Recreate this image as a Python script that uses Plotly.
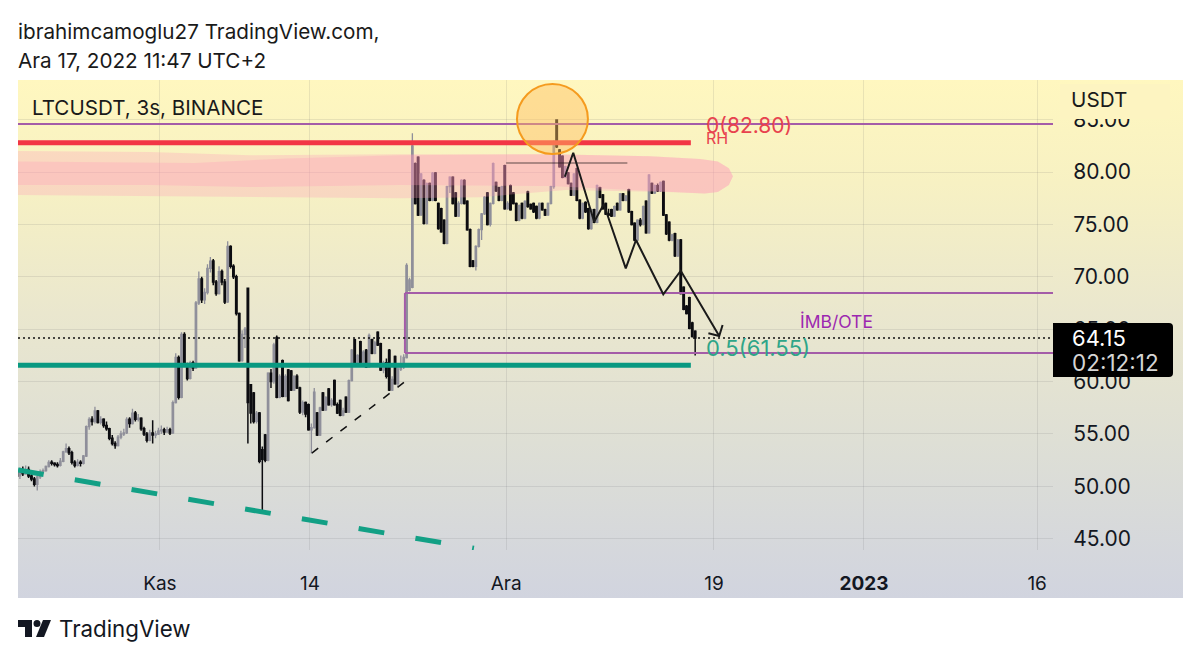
import pandas as pd
import plotly.graph_objects as go

W, H = 1200, 660

# 6 hour bars
bar_start = "2022-10-19 15:00"
bar_open = [
    51.3, 51.0, 51.5, 51.2, 51.6, 51.0, 50.7, 50.2, 50.9, 51.4,
    51.5, 51.9, 52.3, 52.2, 52.1, 52.0, 52.4, 53.3, 53.6, 53.2,
    52.3, 52.0, 52.3, 52.2, 52.9, 55.7, 56.4, 56.2, 57.2, 56.1,
    56.4, 55.8, 55.5, 54.6, 54.1, 53.9, 54.7, 55.0, 55.1, 56.4,
    56.0, 57.0, 56.4, 56.5, 55.5, 55.0, 54.4, 55.1, 54.9, 55.0,
    55.3, 55.4, 55.2, 55.4, 55.1, 58.0, 62.3, 58.5, 64.5, 61.6,
    60.3, 61.8, 61.3, 67.5, 69.8, 67.8, 68.5, 70.8, 71.5, 69.5,
    68.4, 70.5, 69.5, 67.6, 72.9, 71.0, 70.0, 66.5, 62.0, 64.5,
    68.9, 59.7, 58.9, 56.2, 57.0, 53.5, 54.9, 52.5, 60.8, 60.0,
    64.2, 58.5, 62.0, 58.6, 61.1, 61.0, 59.2, 60.5, 59.4, 57.1,
    58.0, 57.8, 55.4, 55.6, 57.0, 54.9, 58.9, 57.3, 59.3, 57.8,
    60.1, 57.8, 58.2, 56.8, 58.5, 57.1, 60.1, 64.0, 61.7, 63.8,
    61.7, 63.0, 61.4, 64.0, 62.7, 64.7, 63.6, 61.1, 61.8, 63.0,
    59.2, 62.4, 59.8, 61.2, 61.4, 62.3, 68.7, 69.0, 80.8, 81.4,
    75.9, 79.2, 75.1, 78.9, 77.3, 79.9, 77.0, 76.5, 75.4, 73.2,
    78.6, 79.5, 78.0, 75.8, 77.0, 79.2, 77.2, 74.5, 71.5, 71.0,
    72.9, 74.5, 76.0, 78.0, 75.0, 77.0, 79.0, 78.5, 77.3, 80.6,
    76.5, 78.7, 78.0, 77.0, 75.4, 77.0, 75.6, 78.1, 76.9, 77.0,
    76.7, 75.6, 77.0, 76.4, 75.9, 77.0, 78.6, 84.96, 82.1, 81.5,
    79.5, 79.9, 78.9, 77.8, 80.3, 77.3, 75.6, 77.1, 76.5, 74.6,
    76.4, 75.2, 78.5, 77.8, 77.0, 76.0, 76.4, 75.8, 77.0, 76.4,
    77.9, 77.3, 78.3, 76.2, 75.1, 73.5, 75.4, 75.0, 77.2, 74.2,
    78.9, 78.0, 78.7, 78.2, 79.1, 75.9, 75.2, 73.5, 74.1, 72.0,
    73.5, 69.0, 67.2, 68.0, 65.6, 64.8,
]
bar_high = [
    51.8, 51.8, 51.9, 52.0, 51.9, 51.2, 50.9, 51.0, 51.6, 51.7,
    52.0, 52.5, 52.5, 52.3, 52.3, 52.7, 53.4, 54.1, 53.8, 53.4,
    52.5, 52.6, 52.5, 53.0, 55.8, 56.6, 56.7, 57.6, 57.3, 56.7,
    56.5, 56.2, 55.6, 54.9, 54.3, 54.9, 55.3, 55.5, 56.6, 56.6,
    57.4, 57.2, 56.9, 56.6, 55.7, 55.2, 55.4, 56.3, 55.3, 55.6,
    55.8, 55.6, 55.7, 55.6, 58.2, 62.7, 62.5, 64.7, 64.7, 61.8,
    62.0, 62.0, 67.7, 70.5, 70.0, 68.9, 71.2, 71.9, 71.7, 69.7,
    71.0, 70.7, 69.8, 73.4, 73.0, 71.2, 70.2, 66.6, 64.9, 65.2,
    68.9, 59.7, 59.0, 57.2, 57.1, 53.8, 55.0, 60.9, 61.2, 63.7,
    64.4, 60.7, 62.1, 60.7, 61.2, 61.1, 60.6, 60.7, 59.5, 58.2,
    58.1, 57.9, 56.0, 59.4, 57.1, 57.6, 59.0, 58.6, 59.4, 58.4,
    60.2, 58.0, 58.3, 57.5, 58.6, 60.2, 63.1, 64.1, 62.6, 63.9,
    63.0, 63.1, 64.6, 64.1, 63.9, 64.8, 63.7, 62.0, 62.2, 63.1,
    60.5, 62.5, 61.5, 62.5, 62.6, 71.3, 69.9, 83.7, 80.9, 81.5,
    79.9, 79.3, 79.0, 79.0, 80.0, 80.0, 77.1, 76.6, 75.5, 78.7,
    79.6, 79.6, 78.1, 77.2, 79.3, 79.3, 77.3, 74.6, 71.6, 73.0,
    74.6, 76.1, 77.7, 78.1, 77.1, 80.9, 79.1, 78.6, 78.7, 80.7,
    77.2, 78.8, 78.1, 77.1, 76.9, 77.1, 77.3, 78.2, 77.0, 77.1,
    76.8, 77.1, 77.1, 76.5, 77.1, 78.7, 83.0, 85.0, 82.2, 81.6,
    80.6, 80.0, 79.0, 79.9, 80.4, 77.4, 77.1, 77.2, 76.6, 76.5,
    76.5, 78.8, 78.6, 77.9, 77.1, 76.5, 76.5, 76.8, 77.1, 78.0,
    78.0, 77.8, 78.4, 76.3, 75.2, 75.5, 75.6, 76.8, 77.3, 79.8,
    79.0, 78.8, 78.9, 79.1, 79.2, 76.0, 75.3, 74.1, 74.2, 73.6,
    73.6, 69.1, 67.3, 68.1, 65.7, 64.9,
]
bar_low = [
    50.8, 50.7, 51.0, 51.1, 50.8, 50.5, 50.0, 49.6, 50.7, 51.2,
    51.4, 51.8, 52.0, 51.9, 51.8, 51.9, 52.3, 53.2, 53.0, 52.1,
    51.8, 51.9, 51.9, 52.1, 52.8, 55.4, 55.8, 56.0, 56.0, 55.9,
    55.6, 55.3, 54.4, 53.9, 53.6, 53.8, 54.5, 54.8, 55.0, 55.6,
    55.9, 56.2, 56.2, 55.3, 54.8, 54.2, 54.3, 54.1, 54.6, 54.9,
    55.0, 54.9, 55.1, 54.9, 55.0, 57.9, 58.3, 58.4, 61.4, 60.1,
    60.2, 61.0, 61.2, 67.3, 67.5, 67.4, 68.3, 70.4, 69.2, 68.2,
    68.3, 69.2, 67.4, 67.5, 70.8, 69.8, 66.3, 61.9, 61.9, 63.2,
    54.1, 56.0, 56.0, 56.0, 52.2, 47.65, 52.3, 52.4, 59.4, 59.8,
    58.4, 58.4, 58.5, 58.5, 58.1, 59.1, 59.1, 59.3, 56.9, 56.8,
    56.6, 55.3, 53.15, 55.5, 54.8, 54.8, 57.2, 57.2, 57.7, 57.6,
    57.7, 56.9, 56.7, 56.7, 57.0, 57.0, 60.0, 61.6, 61.6, 61.6,
    61.6, 61.3, 61.3, 62.6, 62.6, 63.4, 61.0, 60.8, 60.3, 59.1,
    59.1, 59.7, 59.5, 61.0, 61.2, 62.2, 68.6, 68.9, 76.9, 75.8,
    75.8, 75.0, 75.0, 77.2, 77.2, 77.2, 74.5, 74.2, 73.1, 73.1,
    78.0, 76.9, 75.7, 75.7, 76.9, 76.9, 74.4, 70.9, 70.9, 70.6,
    72.8, 73.5, 75.9, 74.9, 74.8, 76.9, 78.1, 77.2, 77.2, 76.4,
    76.4, 76.3, 76.9, 75.3, 75.3, 75.5, 75.5, 76.6, 76.4, 76.1,
    75.5, 75.5, 76.3, 75.8, 75.8, 76.9, 78.4, 82.3, 80.4, 79.4,
    79.4, 78.8, 77.7, 77.7, 77.2, 75.5, 75.5, 76.1, 74.5, 74.5,
    75.1, 75.1, 77.5, 76.4, 75.9, 75.8, 75.7, 75.7, 76.3, 76.3,
    77.2, 77.2, 76.1, 74.9, 73.4, 73.4, 74.8, 74.9, 74.1, 74.1,
    77.9, 77.9, 78.1, 78.1, 75.8, 74.0, 73.4, 73.4, 71.9, 71.9,
    68.3, 66.8, 66.4, 65.0, 64.2, 62.5,
]
bar_close = [
    51.0, 51.5, 51.2, 51.6, 51.0, 50.7, 50.2, 50.9, 51.4, 51.5,
    51.9, 52.3, 52.2, 52.1, 52.0, 52.4, 53.3, 53.6, 53.2, 52.3,
    52.0, 52.3, 52.2, 52.9, 55.7, 56.4, 56.2, 57.2, 56.1, 56.4,
    55.8, 55.5, 54.6, 54.1, 53.9, 54.7, 55.0, 55.1, 56.4, 56.0,
    57.0, 56.4, 56.5, 55.5, 55.0, 54.4, 55.1, 54.9, 55.0, 55.3,
    55.4, 55.2, 55.4, 55.1, 58.0, 62.3, 58.5, 64.5, 61.6, 60.3,
    61.8, 61.3, 67.5, 69.8, 67.8, 68.5, 70.8, 71.5, 69.5, 68.4,
    70.5, 69.5, 67.6, 72.9, 71.0, 70.0, 66.5, 62.0, 64.5, 65.0,
    58.0, 57.0, 56.2, 57.0, 52.4, 52.6, 52.5, 60.8, 60.0, 63.5,
    58.5, 60.5, 58.6, 60.5, 58.2, 59.2, 60.5, 59.4, 57.1, 58.0,
    56.9, 55.4, 55.6, 59.0, 54.9, 57.5, 57.3, 58.5, 57.8, 58.2,
    57.8, 57.0, 56.8, 57.2, 57.1, 60.1, 63.0, 61.7, 62.5, 61.7,
    62.8, 61.4, 64.4, 62.7, 63.7, 63.5, 61.1, 61.8, 60.5, 59.2,
    60.2, 59.8, 61.2, 61.4, 62.3, 71.1, 69.7, 82.5, 77.0, 75.9,
    79.8, 75.1, 78.9, 77.3, 79.9, 77.3, 74.6, 74.3, 73.2, 78.6,
    79.5, 77.0, 75.8, 77.0, 79.2, 77.0, 74.5, 71.0, 71.0, 72.9,
    74.5, 76.0, 77.6, 75.0, 77.0, 80.8, 78.2, 77.3, 78.6, 76.5,
    77.0, 76.4, 77.0, 75.4, 76.8, 75.6, 77.2, 76.7, 76.5, 76.2,
    75.6, 77.0, 76.4, 75.9, 77.0, 78.6, 82.8, 82.4, 80.5, 79.5,
    80.5, 78.9, 77.8, 79.8, 77.3, 75.6, 77.0, 76.2, 74.6, 76.4,
    75.2, 78.7, 77.6, 76.5, 76.0, 75.9, 75.8, 76.7, 76.4, 77.9,
    77.3, 77.7, 76.2, 75.0, 73.5, 75.4, 75.0, 76.7, 74.2, 79.7,
    78.0, 78.7, 78.2, 79.0, 75.9, 74.1, 73.5, 74.0, 72.0, 73.5,
    68.4, 66.9, 66.5, 65.1, 64.3, 64.15,
]

price_ticks = [45, 50, 55, 60, 65, 70, 75, 80, 85]
date_ticks = ["2022-11-01", "2022-11-14", "2022-12-01", "2022-12-19", "2023-01-01", "2023-01-16"]
date_labels = ["Kas", "14", "Ara", "19", "<b>2023</b>", "16"]

x_left = "2022-10-19 17:00"
x_right = "2023-01-17 09:00"
y_bottom, y_top = 43.93, 88.78

# drawings on the chart, dates and prices
level_top = 84.58
level_rh = 82.80
level_box_top = 68.45
level_box_bottom = 62.73
level_mid = 61.55
last_price = 64.15
rh_end = "2022-12-17 00:00"
box_start = "2022-11-22 05:30"

zigzag_dates = ["2022-12-06 02:00", "2022-12-06 19:30", "2022-12-08 15:00", "2022-12-09 11:00",
                "2022-12-11 08:40", "2022-12-12 06:00", "2022-12-14 14:40", "2022-12-16 03:00",
                "2022-12-19 11:00"]
zigzag_prices = [79.55, 81.84, 75.26, 76.92, 70.81, 73.51, 68.33, 70.58, 64.35]
arrow_dates = ["2022-12-18 12:30", "2022-12-19 11:00", "2022-12-19 18:00"]
arrow_prices = [64.61, 64.35, 65.4]

green_trend_dates = ["2022-10-19 17:00", "2022-11-28 05:00"]
green_trend_prices = [51.56, 44.1]
black_trend_dates = ["2022-11-14 04:00", "2022-11-22 10:00"]
black_trend_prices = [53.18, 60.15]
thin_dates = ["2022-12-01 00:00", "2022-12-11 12:00"]
thin_price = 80.86

brush_a_dates = ["2022-10-19 17:00", "2022-10-31 03:00", "2022-11-08 19:00", "2022-11-21 19:00",
                 "2022-12-04 19:00", "2022-12-13 11:00", "2022-12-17 19:00", "2022-12-19 08:00",
                 "2022-12-20 07:00", "2022-12-20 15:30", "2022-12-20 07:00", "2022-12-19 08:00",
                 "2022-12-18 05:00", "2022-12-13 11:00", "2022-12-04 19:00", "2022-11-21 19:00",
                 "2022-11-08 19:00", "2022-10-31 03:00", "2022-10-19 17:00"]
brush_a_prices = [82.0, 81.9, 81.6, 81.7, 81.7, 81.5, 81.25, 81.0, 80.35, 79.6, 78.75, 78.1,
                  77.95, 78.2, 78.66, 78.75, 78.57, 78.75, 78.75]
brush_b_dates = ["2022-10-19 17:00", "2022-11-04 00:00", "2022-11-12 00:00", "2022-11-21 19:00",
                 "2022-12-04 19:00", "2022-12-13 11:00", "2022-12-17 19:00", "2022-12-19 08:00",
                 "2022-12-20 07:00", "2022-12-20 15:30", "2022-12-20 07:00", "2022-12-19 08:00",
                 "2022-12-18 05:00", "2022-12-14 22:00", "2022-12-06 04:00", "2022-11-28 17:30",
                 "2022-11-21 19:00", "2022-10-31 03:00", "2022-10-19 17:00"]
brush_b_prices = [81.0, 80.85, 81.3, 81.6, 81.7, 81.5, 81.25, 81.0, 80.35, 79.6, 78.75, 78.1,
                  77.95, 78.09, 78.28, 77.6, 77.5, 77.7, 77.8]

FONT = "Inter"
INK = "#131722"
PURPLE = "#A45CA8"
RED = "#F23645"
GREEN = "#089981"
TEAL_TEXT = "#2FA588"
BRUSH = "rgba(255,150,185,0.28)"


def px(x):
    return x / W


def py(y):
    return 1 - y / H


bar_times = pd.date_range(bar_start, periods=len(bar_close), freq="6h")

fig = go.Figure()

# panel behind the chart, it goes further than the plot on the right and at the bottom
fig.add_trace(go.Scatter(
    x=[0, 1, 1, 0, 0], y=[0, 0, 1, 1, 0], mode="lines", line=dict(width=0), fill="toself",
    fillgradient=dict(type="vertical", colorscale=[
        [0, "#D1D4DF"], [0.3, "#DEDFD5"], [0.55, "#EAE7CE"], [0.8, "#F7F1C3"], [1, "#FFF7BF"]]),
    hoverinfo="skip", xaxis="x", yaxis="y"))

fig.add_trace(go.Candlestick(
    x=bar_times, open=bar_open, high=bar_high, low=bar_low, close=bar_close,
    increasing=dict(line=dict(color="#8F8F9A", width=1.3), fillcolor="#8F8F9A"),
    decreasing=dict(line=dict(color="#0C0C10", width=1.5), fillcolor="#0C0C10"),
    whiskerwidth=0, xaxis="x2", yaxis="y2"))


def chart_line(xs, ys, color, width, dash="solid", fill=None, fillcolor=None):
    fig.add_trace(go.Scatter(
        x=xs, y=ys, mode="lines", line=dict(color=color, width=width, dash=dash),
        fill=fill, fillcolor=fillcolor, hoverinfo="skip", xaxis="x2", yaxis="y2"))


chart_line(brush_a_dates, brush_a_prices, "rgba(0,0,0,0)", 0, fill="toself", fillcolor=BRUSH)
chart_line(brush_b_dates, brush_b_prices, "rgba(0,0,0,0)", 0, fill="toself", fillcolor=BRUSH)

chart_line([x_left, x_right], [level_top, level_top], PURPLE, 2)
chart_line([box_start, x_right], [level_box_top, level_box_top], PURPLE, 2)
chart_line([box_start, x_right], [level_box_bottom, level_box_bottom], PURPLE, 2)
chart_line([box_start, box_start], [level_box_bottom, level_box_top], PURPLE, 2)
chart_line([x_left, rh_end], [level_rh, level_rh], RED, 5)
chart_line([x_left, rh_end], [level_mid, level_mid], GREEN, 5)
chart_line([x_left, x_right], [last_price, last_price], "#111111", 1.5, dash="2px,3px")
chart_line(green_trend_dates, green_trend_prices, "#12A085", 5, dash="26px,31.6px")
chart_line(black_trend_dates, black_trend_prices, "#111111", 1.5, dash="8px,10px")
chart_line(thin_dates, [thin_price, thin_price], "rgba(30,20,20,0.7)", 1.2)
chart_line(zigzag_dates, zigzag_prices, "#1A1A1A", 2)
chart_line(arrow_dates, arrow_prices, "#1A1A1A", 2)

shapes = [
    # highlighted top
    dict(type="circle", xref="x2", yref="y2", x0="2022-12-01 22:30", x1="2022-12-08 02:00",
         y0=81.72, y1=88.4, fillcolor="rgba(255,190,95,0.45)", line=dict(color="#F59B1E", width=2),
         layer="above"),
    # hides the upper half of the 85.00 label
    dict(type="rect", xref="paper", yref="paper", x0=px(1060), x1=px(1170), y0=py(119), y1=py(84),
         fillcolor="#FDF4C1", line=dict(width=0), layer="above"),
    # last price tag
    dict(type="path", xref="paper", yref="paper", line=dict(width=0), fillcolor="#000000", layer="above",
         path=f"M{px(1053)},{py(323)} L{px(1169)},{py(323)} Q{px(1173)},{py(323)} {px(1173)},{py(327)} "
              f"L{px(1173)},{py(373)} Q{px(1173)},{py(377)} {px(1169)},{py(377)} L{px(1053)},{py(377)} Z"),
    # TradingView logo
    dict(type="path", xref="paper", yref="paper", line=dict(width=0), fillcolor=INK,
         path=f"M{px(18)},{py(620)} L{px(32)},{py(620)} L{px(32)},{py(637)} L{px(25)},{py(637)} "
              f"L{px(25)},{py(627)} L{px(18)},{py(627)} Z"),
    dict(type="circle", xref="paper", yref="paper", x0=px(33.5), x1=px(40.5), y0=py(627), y1=py(620),
         fillcolor=INK, line=dict(width=0)),
    dict(type="path", xref="paper", yref="paper", line=dict(width=0), fillcolor=INK,
         path=f"M{px(43)},{py(620)} L{px(51)},{py(620)} L{px(44)},{py(637)} L{px(36)},{py(637)} Z"),
]


def note(text, x, y, size, color):
    return dict(text=text, xref="paper", yref="paper", x=px(x), y=py(y), xanchor="left", yanchor="middle",
                showarrow=False, borderpad=0, font=dict(family=FONT, size=size, color=color))


annotations = [
    note("ibrahimcamoglu27 TradingView.com,", 17, 32, 20.7, "#1A1A1A"),
    note("Ara 17, 2022 11:47 UTC+2", 17, 61, 20.7, "#1A1A1A"),
    note("LTCUSDT, 3s, BINANCE", 31, 108, 20.6, "#1A1A1A"),
    note("USDT", 1070, 100, 20.7, "#1A1A1A"),
    note("RH", 705, 138, 16, "#E8424E"),
    note("0(82.80)", 705, 125, 21, "#E8424E"),
    note("İMB/OTE", 799, 322, 17.5, "#9C27B0"),
    note("0.5(61.55)", 705, 348, 22, TEAL_TEXT),
    note("64.15", 1071, 338, 22, "#FFFFFF"),
    note("02:12:12", 1071, 362, 22.5, "#D5D5D5"),
    note("TradingView", 58, 628, 22.3, INK),
]

fig.update_layout(
    width=W, height=H, margin=dict(l=0, r=0, t=0, b=0), showlegend=False,
    paper_bgcolor="#FFFFFF", plot_bgcolor="rgba(0,0,0,0)",
    font=dict(family=FONT, color=INK),
    shapes=shapes, annotations=annotations,
    xaxis=dict(domain=[px(18), px(1183)], range=[0, 1], visible=False, fixedrange=True),
    yaxis=dict(domain=[py(598), py(80)], range=[0, 1], visible=False, fixedrange=True),
    xaxis2=dict(
        domain=[px(18), px(1053)], range=[x_left, x_right], anchor="y2", type="date",
        rangeslider=dict(visible=False), tickmode="array", tickvals=date_ticks, ticktext=date_labels,
        tickfont=dict(family=FONT, size=19, color=INK), ticks="outside", ticklen=16,
        tickcolor="rgba(0,0,0,0)", showgrid=True, gridcolor="rgba(90,90,100,0.13)", gridwidth=1,
        zeroline=False, showline=False),
    yaxis2=dict(
        domain=[py(550), py(80)], range=[y_bottom, y_top], anchor="x2", side="right",
        tickmode="array", tickvals=price_ticks, ticktext=[f"{v:.2f}" for v in price_ticks],
        tickfont=dict(family=FONT, size=21, color=INK), ticks="outside", ticklen=15,
        tickcolor="rgba(0,0,0,0)", showgrid=True, gridcolor="rgba(90,90,100,0.13)", gridwidth=1,
        zeroline=False, showline=False),
)

# the page's default body margin would push the figure 8px down and right
fig.write_html("out.html", config=dict(displayModeBar=False),
               post_script="document.body.style.margin = '0';")
